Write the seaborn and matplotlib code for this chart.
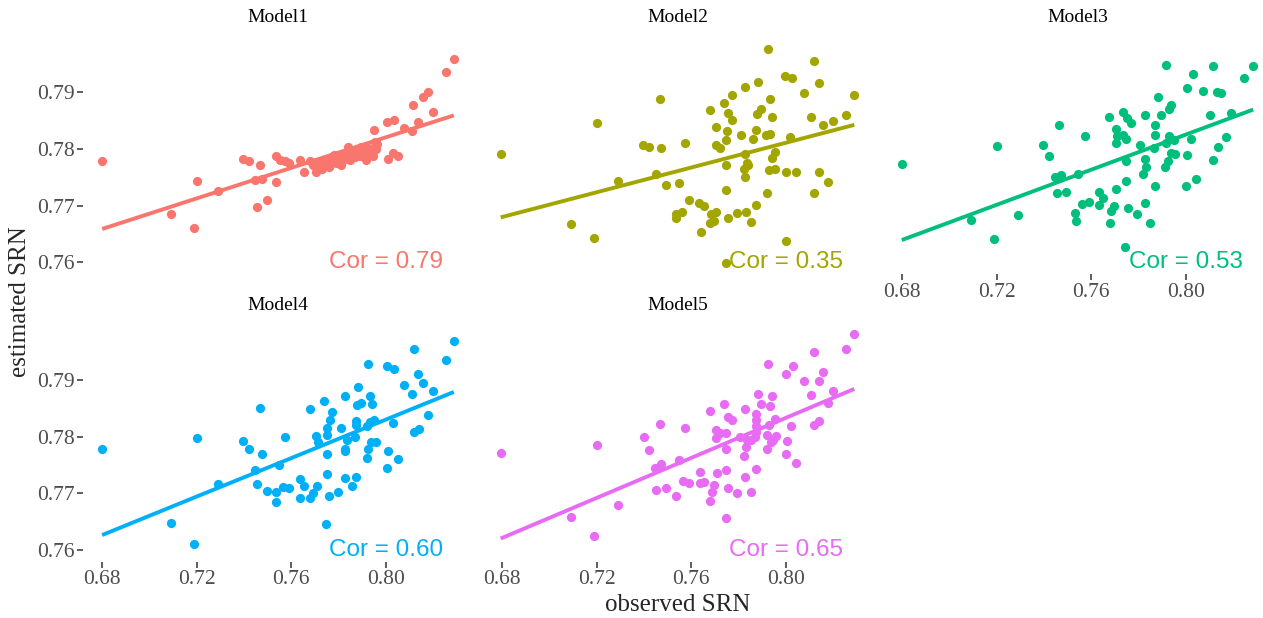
import numpy as np
import pandas as pd
import matplotlib
matplotlib.use("Agg")
import matplotlib.pyplot as plt
import seaborn as sns

# ---------------- data ----------------
models = ["Model1", "Model2", "Model3", "Model4", "Model5"]
colors = ["#F8766D", "#A3A500", "#00BF7D", "#00B0F6", "#E76BF3"]
cor_labels = ["Cor = 0.79", "Cor = 0.35", "Cor = 0.53", "Cor = 0.60", "Cor = 0.65"]
x_ticks = [0.68, 0.72, 0.76, 0.80]
y_ticks = [0.76, 0.77, 0.78, 0.79]
cor_pos = (0.80, 0.76)

m1_obs = [0.6800, 0.7090, 0.7191, 0.7200, 0.7291, 0.7397, 0.7422, 0.7469, 0.7449, 0.7475,
          0.7455, 0.7497, 0.7535, 0.7538, 0.7552, 0.7573, 0.7591, 0.7637, 0.7654, 0.7682,
          0.7693, 0.7707, 0.7736, 0.7757, 0.7778, 0.7799, 0.7820, 0.7835, 0.7842, 0.7856,
          0.7870, 0.7884, 0.7898, 0.7912, 0.7919, 0.7940, 0.7947, 0.7954, 0.7950, 0.8007,
          0.8037, 0.8011, 0.8053, 0.8032, 0.8079, 0.8110, 0.8138, 0.8117, 0.8157, 0.8178,
          0.8202, 0.8254, 0.8289, 0.7700, 0.7715, 0.7730, 0.7745, 0.7760, 0.7775, 0.7790,
          0.7805, 0.7812, 0.7825, 0.7848, 0.7862, 0.7877, 0.7890, 0.7905, 0.7925, 0.7932,
          0.7958, 0.7965, 0.7780, 0.7760]
m1_est = [0.7778, 0.7685, 0.7660, 0.7744, 0.7726, 0.7782, 0.7779, 0.7771, 0.7745, 0.7747,
          0.7697, 0.7710, 0.7741, 0.7788, 0.7781, 0.7778, 0.7775, 0.7781, 0.7760, 0.7779,
          0.7772, 0.7760, 0.7775, 0.7776, 0.7778, 0.7784, 0.7781, 0.7790, 0.7803, 0.7795,
          0.7785, 0.7795, 0.7804, 0.7790, 0.7781, 0.7798, 0.7788, 0.7813, 0.7834, 0.7848,
          0.7852, 0.7782, 0.7788, 0.7792, 0.7837, 0.7832, 0.7848, 0.7878, 0.7892, 0.7901,
          0.7866, 0.7935, 0.7958, 0.7770, 0.7776, 0.7765, 0.7772, 0.7768, 0.7785, 0.7776,
          0.7788, 0.7772, 0.7791, 0.7780, 0.7787, 0.7799, 0.7788, 0.7796, 0.7802, 0.7790,
          0.7800, 0.7808, 0.7790, 0.7782]

m2_obs = [0.6794, 0.7092, 0.7191, 0.7201, 0.7292, 0.7397, 0.7420, 0.7450, 0.7470, 0.7474,
          0.7495, 0.7548, 0.7575, 0.7590, 0.7538, 0.7563, 0.7538, 0.7634, 0.7654, 0.7640,
          0.7679, 0.7685, 0.7707, 0.7679, 0.7707, 0.7706, 0.7724, 0.7738, 0.7758, 0.7774,
          0.7772, 0.7752, 0.7749, 0.7749, 0.7749, 0.7758, 0.7749, 0.7796, 0.7833, 0.7855,
          0.7873, 0.7812, 0.7830, 0.7830, 0.7835, 0.7823, 0.7841, 0.7830, 0.7863, 0.7874,
          0.7877, 0.7894, 0.7885, 0.7926, 0.7934, 0.7943, 0.7917, 0.7934, 0.7955, 0.7943,
          0.7931, 0.7955, 0.7920, 0.7996, 0.8028, 0.8020, 0.8000, 0.8044, 0.8003, 0.8079,
          0.8109, 0.8120, 0.8141, 0.8158, 0.8202, 0.8141, 0.8178, 0.8120, 0.8255, 0.8291,
          0.7697]
m2_est = [0.7791, 0.7668, 0.7643, 0.7845, 0.7744, 0.7807, 0.7803, 0.7755, 0.7889, 0.7801,
          0.7737, 0.7740, 0.7811, 0.7709, 0.7685, 0.7688, 0.7678, 0.7704, 0.7700, 0.7654,
          0.7869, 0.7685, 0.7688, 0.7670, 0.7839, 0.7807, 0.7801, 0.7881, 0.7863, 0.7851,
          0.7895, 0.7831, 0.7816, 0.7772, 0.7728, 0.7678, 0.7598, 0.7687, 0.7688, 0.7671,
          0.7701, 0.7824, 0.7910, 0.7791, 0.7775, 0.7764, 0.7772, 0.7750, 0.7817, 0.7834,
          0.7862, 0.7870, 0.7919, 0.7976, 0.7889, 0.7857, 0.7825, 0.7827, 0.7794, 0.7784,
          0.7763, 0.7764, 0.7723, 0.7928, 0.7926, 0.7821, 0.7759, 0.7760, 0.7637, 0.7898,
          0.7857, 0.7956, 0.7916, 0.7843, 0.7850, 0.7759, 0.7742, 0.7722, 0.7860, 0.7896,
          0.7672]

m3_obs = [0.6799, 0.7092, 0.7190, 0.7200, 0.7290, 0.7397, 0.7420, 0.7466, 0.7448, 0.7472,
          0.7454, 0.7493, 0.7546, 0.7573, 0.7532, 0.7535, 0.7563, 0.7592, 0.7634, 0.7634,
          0.7651, 0.7676, 0.7697, 0.7686, 0.7679, 0.7707, 0.7704, 0.7710, 0.7707, 0.7737,
          0.7754, 0.7770, 0.7749, 0.7749, 0.7746, 0.7756, 0.7793, 0.7744, 0.7806, 0.7827,
          0.7827, 0.7831, 0.7821, 0.7827, 0.7849, 0.7869, 0.7866, 0.7870, 0.7870, 0.7883,
          0.7894, 0.7918, 0.7930, 0.7939, 0.7918, 0.7930, 0.7951, 0.7939, 0.7955, 0.7927,
          0.7915, 0.8007, 0.8032, 0.8073, 0.8117, 0.8134, 0.8151, 0.8025, 0.8007, 0.8003,
          0.8046, 0.8103, 0.8194, 0.8173, 0.8137, 0.8115, 0.8249, 0.8286, 0.7737]
m3_est = [0.7773, 0.7674, 0.7641, 0.7806, 0.7683, 0.7807, 0.7787, 0.7842, 0.7750, 0.7754,
          0.7723, 0.7724, 0.7755, 0.7822, 0.7687, 0.7672, 0.7703, 0.7706, 0.7724, 0.7701,
          0.7713, 0.7857, 0.7700, 0.7690, 0.7669, 0.7730, 0.7835, 0.7823, 0.7811, 0.7866,
          0.7854, 0.7845, 0.7818, 0.7778, 0.7744, 0.7695, 0.7685, 0.7627, 0.7807, 0.7860,
          0.7782, 0.7769, 0.7756, 0.7704, 0.7669, 0.7735, 0.7801, 0.7824, 0.7842, 0.7892,
          0.7860, 0.7949, 0.7870, 0.7878, 0.7810, 0.7822, 0.7816, 0.7792, 0.7791, 0.7778,
          0.7768, 0.7907, 0.7932, 0.7903, 0.7946, 0.7901, 0.7899, 0.7818, 0.7789, 0.7734,
          0.7747, 0.7860, 0.7864, 0.7821, 0.7803, 0.7781, 0.7925, 0.7946, 0.7824]

m4_obs = [0.6800, 0.7090, 0.7191, 0.7200, 0.7292, 0.7397, 0.7422, 0.7469, 0.7475, 0.7449,
          0.7455, 0.7497, 0.7549, 0.7575, 0.7535, 0.7538, 0.7566, 0.7592, 0.7637, 0.7654,
          0.7637, 0.7680, 0.7710, 0.7693, 0.7682, 0.7740, 0.7773, 0.7764, 0.7754, 0.7750,
          0.7707, 0.7714, 0.7750, 0.7750, 0.7760, 0.7797, 0.7747, 0.7811, 0.7830, 0.7835,
          0.7830, 0.7828, 0.7830, 0.7856, 0.7873, 0.7873, 0.7877, 0.7895, 0.7884, 0.7870,
          0.7924, 0.7934, 0.7943, 0.7920, 0.7952, 0.7937, 0.7959, 0.7926, 0.7920, 0.8007,
          0.8037, 0.8030, 0.8011, 0.8007, 0.8051, 0.8078, 0.8110, 0.8121, 0.8138, 0.8157,
          0.8202, 0.8178, 0.8141, 0.8120, 0.8254, 0.8289, 0.7874, 0.7933]
m4_est = [0.7778, 0.7647, 0.7610, 0.7798, 0.7717, 0.7793, 0.7779, 0.7850, 0.7769, 0.7742,
          0.7716, 0.7704, 0.7750, 0.7799, 0.7685, 0.7703, 0.7711, 0.7709, 0.7725, 0.7713,
          0.7691, 0.7848, 0.7712, 0.7700, 0.7692, 0.7863, 0.7844, 0.7829, 0.7815, 0.7803,
          0.7801, 0.7791, 0.7769, 0.7734, 0.7695, 0.7703, 0.7645, 0.7815, 0.7872, 0.7794,
          0.7779, 0.7774, 0.7727, 0.7712, 0.7728, 0.7827, 0.7856, 0.7860, 0.7888, 0.7800,
          0.7928, 0.7872, 0.7858, 0.7818, 0.7829, 0.7791, 0.7791, 0.7778, 0.7762, 0.7924,
          0.7919, 0.7824, 0.7775, 0.7744, 0.7760, 0.7892, 0.7875, 0.7954, 0.7910, 0.7894,
          0.7881, 0.7838, 0.7813, 0.7808, 0.7936, 0.7969, 0.7821, 0.7825]

m5_obs = [0.6794, 0.7092, 0.7191, 0.7201, 0.7292, 0.7400, 0.7422, 0.7470, 0.7474, 0.7449,
          0.7453, 0.7495, 0.7548, 0.7576, 0.7538, 0.7566, 0.7592, 0.7637, 0.7637, 0.7654,
          0.7679, 0.7682, 0.7696, 0.7710, 0.7687, 0.7740, 0.7757, 0.7775, 0.7707, 0.7724,
          0.7749, 0.7707, 0.7749, 0.7749, 0.7758, 0.7795, 0.7747, 0.7809, 0.7828, 0.7837,
          0.7834, 0.7823, 0.7830, 0.7855, 0.7873, 0.7874, 0.7874, 0.7884, 0.7898, 0.7924,
          0.7934, 0.7943, 0.7955, 0.7931, 0.7920, 0.7959, 0.7937, 0.7920, 0.8003, 0.8031,
          0.8023, 0.8005, 0.8003, 0.8046, 0.8079, 0.8121, 0.8141, 0.8157, 0.8107, 0.8202,
          0.8178, 0.8141, 0.8120, 0.8255, 0.8291, 0.7874, 0.7874, 0.7947, 0.7853, 0.7870]
m5_est = [0.7771, 0.7658, 0.7624, 0.7785, 0.7680, 0.7800, 0.7777, 0.7822, 0.7752, 0.7744,
          0.7706, 0.7709, 0.7759, 0.7816, 0.7696, 0.7722, 0.7718, 0.7738, 0.7718, 0.7720,
          0.7846, 0.7687, 0.7715, 0.7735, 0.7702, 0.7857, 0.7835, 0.7829, 0.7812, 0.7806,
          0.7806, 0.7797, 0.7779, 0.7741, 0.7709, 0.7700, 0.7656, 0.7799, 0.7848, 0.7794,
          0.7782, 0.7765, 0.7728, 0.7702, 0.7743, 0.7829, 0.7840, 0.7876, 0.7857, 0.7928,
          0.7854, 0.7871, 0.7832, 0.7821, 0.7803, 0.7801, 0.7791, 0.7778, 0.7910, 0.7924,
          0.7819, 0.7793, 0.7769, 0.7754, 0.7899, 0.7949, 0.7898, 0.7915, 0.7874, 0.7881,
          0.7860, 0.7827, 0.7820, 0.7955, 0.7981, 0.7818, 0.7809, 0.7794, 0.7794, 0.7800]

obs_all = [m1_obs, m2_obs, m3_obs, m4_obs, m5_obs]
est_all = [m1_est, m2_est, m3_est, m4_est, m5_est]

frames = []
for name, xo, ye in zip(models, obs_all, est_all):
    n = min(len(xo), len(ye))
    frames.append(pd.DataFrame({"model": name, "observed": xo[:n], "estimated": ye[:n]}))
df = pd.concat(frames, ignore_index=True)

# ---------------- style ----------------
sns.set_theme(style="white")
plt.rcParams["font.family"] = ["Liberation Serif", "DejaVu Serif"]

W, H = 1263, 618
g = sns.FacetGrid(df, col="model", col_order=models, col_wrap=3,
                  sharex=True, sharey=True, height=3, aspect=1.3, despine=True)
fig = g.figure
fig.set_size_inches(W / 100, H / 100)

for ax, name, c, lab in zip(g.axes.flat, models, colors, cor_labels):
    sub = df[df["model"] == name]
    sns.regplot(data=sub, x="observed", y="estimated", ax=ax, ci=None, color=c,
                scatter_kws=dict(s=44, alpha=1, linewidths=0, zorder=2),
                line_kws=dict(lw=2.8, zorder=3, solid_capstyle="butt"))
    ax.text(cor_pos[0], cor_pos[1], lab, color=c, ha="center", va="center",
            fontsize=17.5, family="Liberation Sans", zorder=4)
    ax.set_title("")
    ax.set_xlabel("")
    ax.set_ylabel("")
    ax.text(0.5, 1.075, name, transform=ax.transAxes, ha="center", va="center",
            fontsize=14, color="black")

# shared limits with 5% expansion (like ggplot)
xmin, xmax = df["observed"].min(), df["observed"].max()
ymin, ymax = df["estimated"].min(), df["estimated"].max()
dx, dy = (xmax - xmin) * 0.05, (ymax - ymin) * 0.05

col_left_px = [83, 483, 883]
panel_w_px = 389
row_top_px = [35.6, 323.3]
panel_h_px = 238.6

for i, ax in enumerate(g.axes.flat):
    r, cidx = divmod(i, 3)
    left = col_left_px[cidx] / W
    bottom = 1 - (row_top_px[r] + panel_h_px) / H
    ax.set_position([left, bottom, panel_w_px / W, panel_h_px / H])
    ax.set_xlim(xmin - dx, xmax + dx)
    ax.set_ylim(ymin - dy, ymax + dy)
    ax.set_xticks(x_ticks)
    ax.set_yticks(y_ticks)
    ax.set_xticklabels([f"{v:.2f}" for v in x_ticks])
    ax.set_yticklabels([f"{v:.2f}" for v in y_ticks])
    ax.tick_params(axis="both", which="major", labelsize=15.5, labelcolor="#4D4D4D",
                   color="#333333", length=4, width=1.1, pad=2,
                   bottom=True, left=True)
    show_x = i >= 2
    show_y = cidx == 0
    ax.tick_params(axis="x", bottom=show_x, labelbottom=show_x)
    ax.tick_params(axis="y", left=show_y, labelleft=show_y)
    for sp in ax.spines.values():
        sp.set_visible(False)
    ax.grid(False)

panel_cx = (col_left_px[0] + col_left_px[2] + panel_w_px) / 2 / W
fig.text(panel_cx, 1 - 605 / H, "observed SRN", ha="center", va="center", fontsize=18)
fig.text(20 / W, 1 - 302 / H, "estimated SRN", ha="center", va="center",
         rotation=90, fontsize=18)

fig.savefig("out.png", dpi=100, facecolor="white")
